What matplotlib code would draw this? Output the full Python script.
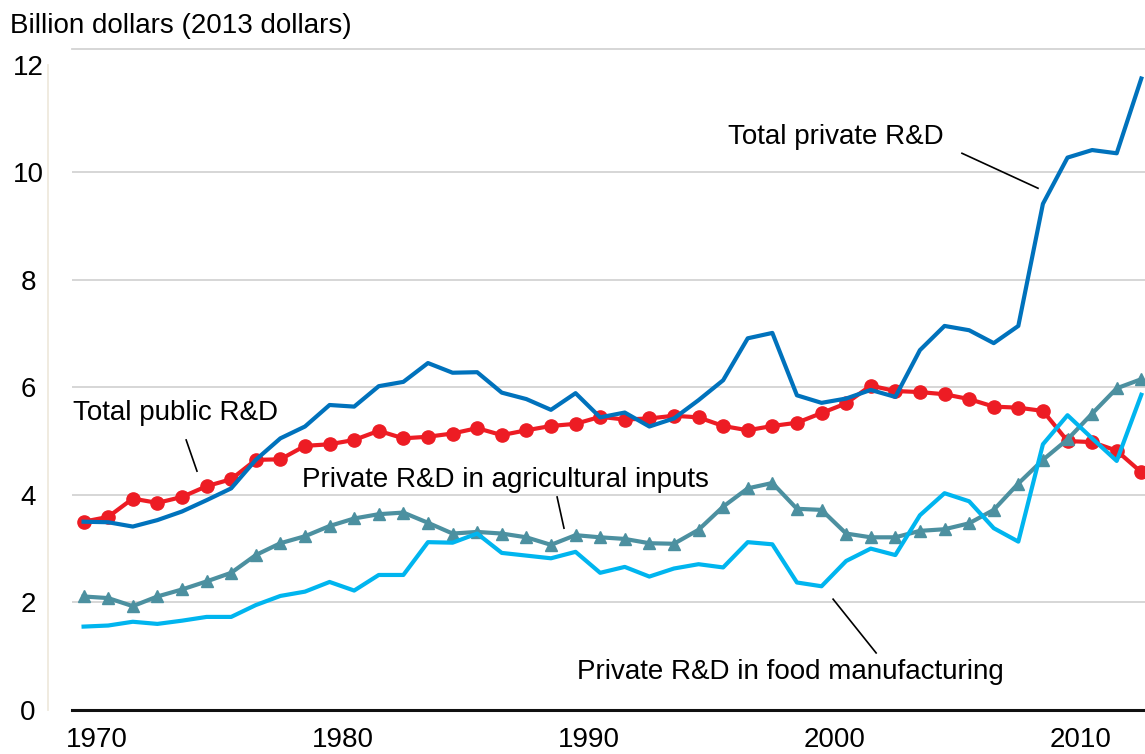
import matplotlib
matplotlib.use("Agg")
import matplotlib.pyplot as plt
import matplotlib.transforms as mtransforms

plt.rcParams["font.family"] = ["Liberation Sans", "DejaVu Sans"]

# ---------------------------------------------------------------------------
# Data (billion 2013 dollars)
# ---------------------------------------------------------------------------
years = list(range(1970, 2014))

public_total = [3.50, 3.59, 3.93, 3.85, 3.96, 4.16, 4.29, 4.65, 4.66, 4.91,
                4.94, 5.02, 5.19, 5.05, 5.08, 5.14, 5.24, 5.11, 5.20, 5.28,
                5.32, 5.45, 5.40, 5.42, 5.47, 5.44, 5.28, 5.20, 5.28, 5.34,
                5.52, 5.70, 6.03, 5.93, 5.91, 5.87, 5.78, 5.64, 5.62, 5.56,
                5.00, 4.98, 4.82, 4.42]

private_total = [3.50, 3.49, 3.41, 3.53, 3.69, 3.90, 4.12, 4.65, 5.05, 5.27,
                 5.67, 5.64, 6.02, 6.10, 6.45, 6.27, 6.28, 5.90, 5.78, 5.58,
                 5.89, 5.44, 5.53, 5.27, 5.42, 5.76, 6.13, 6.91, 7.01, 5.85,
                 5.71, 5.79, 5.95, 5.82, 6.69, 7.14, 7.06, 6.82, 7.14, 9.41,
                 10.27, 10.41, 10.35, 11.74]

private_ag_inputs = [2.11, 2.08, 1.93, 2.11, 2.24, 2.39, 2.55, 2.88, 3.10, 3.23,
                     3.42, 3.56, 3.64, 3.67, 3.48, 3.28, 3.31, 3.28, 3.21, 3.07,
                     3.25, 3.21, 3.18, 3.10, 3.09, 3.35, 3.78, 4.12, 4.22, 3.74,
                     3.72, 3.28, 3.21, 3.21, 3.33, 3.36, 3.47, 3.72, 4.21, 4.65,
                     5.03, 5.51, 5.98, 6.15]

private_food_mfg = [1.55, 1.57, 1.64, 1.60, 1.66, 1.73, 1.73, 1.95, 2.12, 2.20,
                    2.38, 2.22, 2.51, 2.51, 3.12, 3.11, 3.28, 2.92, 2.87, 2.82,
                    2.94, 2.55, 2.66, 2.48, 2.63, 2.71, 2.65, 3.12, 3.08, 2.37,
                    2.30, 2.77, 3.00, 2.88, 3.62, 4.03, 3.88, 3.38, 3.13, 4.94,
                    5.48, 5.05, 4.63, 5.86]

x_ticks = [1970, 1980, 1990, 2000, 2010]
y_ticks = [0, 2, 4, 6, 8, 10, 12]
grid_values = [2, 4, 6, 8, 10]

# ---------------------------------------------------------------------------
# Plot
# ---------------------------------------------------------------------------
FS = 20
PX = 72 / 100  # points per pixel at dpi 100
fig = plt.figure(figsize=(11.45, 7.54), dpi=100)
ax = fig.add_axes([0.0629, 0.0584, 0.9371, 0.8767])

# spines first: set_position() resets the ticks
ax.spines["right"].set_visible(False)
ax.spines["top"].set_color("#d3d3d3")
ax.spines["top"].set_linewidth(1.3)
ax.spines["bottom"].set_color("#111111")
ax.spines["bottom"].set_linewidth(2.2)
ax.spines["left"].set_color("#efe9dd")
ax.spines["left"].set_linewidth(1.3)
ax.spines["left"].set_position(("outward", 24 * PX))

for v in grid_values:
    ax.axhline(v, color="#d3d3d3", lw=1.3, zorder=0)

ax.plot(years, public_total, color="#ed1c24", lw=3.0, marker="o",
        markersize=9.5, zorder=2)
ax.plot(years, private_ag_inputs, color="#4c90a0", lw=3.0, marker="^",
        markersize=8.5, zorder=3)
ax.plot(years, private_food_mfg, color="#00b5ef", lw=3.0, zorder=4)
ax.plot(years, private_total, color="#0072bc", lw=3.0, zorder=5)

ax.set_xlim(1969.53, 2013.15)
ax.set_ylim(0, 12.29)
ax.spines["left"].set_bounds(0, 12)

ax.tick_params(axis="both", length=0, labelsize=FS)
ax.tick_params(axis="y", pad=20 * PX)
ax.tick_params(axis="x", pad=17 * PX)
ax.set_xticks(x_ticks)
ax.set_xticklabels([str(t) for t in x_ticks], fontsize=FS)
ax.set_yticks(y_ticks)
ax.set_yticklabels([str(t) for t in y_ticks], fontsize=FS, ha="center")

# x labels sit half a year to the right of the tick, like a category axis
shift = mtransforms.ScaledTranslation(13 / 100, 0, fig.dpi_scale_trans)
for lbl in ax.get_xticklabels():
    lbl.set_transform(lbl.get_transform() + shift)

fig.text(10 / 1145, 1 - 33 / 754, "Billion dollars (2013 dollars)",
         fontsize=FS, ha="left", va="baseline")

# Series labels with leader lines
labels = [
    ("Total private R&D", 1996.20, 10.65, (2005.71, 2008.80), (10.35, 9.70)),
    ("Total public R&D", 1969.57, 5.52, (1974.17, 1974.61), (5.02, 4.44)),
    ("Private R&D in agricultural inputs", 1978.88, 4.275, (1989.25, 1989.53), (3.96, 3.38)),
    ("Private R&D in food manufacturing", 1990.06, 0.706, (2000.47, 2002.22), (2.06, 1.06)),
]
for text, tx, ty, lx, ly in labels:
    ax.text(tx, ty, text, fontsize=FS, ha="left", va="center", zorder=6)
    ax.plot(lx, ly, color="black", lw=1.2, zorder=6)

fig.savefig("out.png", dpi=100)
plt.close(fig)
